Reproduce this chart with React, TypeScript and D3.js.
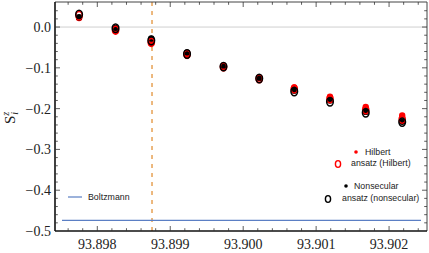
import React, { useRef, useEffect } from 'react';
import * as d3 from 'd3';

// omega values (x) of the ten sample points
const omegas = [93.89775, 93.89825, 93.89874, 93.89923, 93.89973, 93.90022, 93.9007, 93.90119, 93.90168, 93.90218];
const hilbert = [0.022, -0.01, -0.04, -0.068, -0.1, -0.126, -0.148, -0.171, -0.196, -0.217];
const ansatzHilbert = [0.028, -0.008, -0.038, -0.067, -0.098, -0.127, -0.152, -0.176, -0.203, -0.226];
const nonsecular = [0.024, -0.002, -0.028, -0.062, -0.094, -0.124, -0.156, -0.18, -0.208, -0.232];
const ansatzNonsecular = [0.031, -0.003, -0.033, -0.066, -0.097, -0.126, -0.158, -0.183, -0.21, -0.233];
const boltzmann = -0.474;
const resonance = 93.89875;
const xTicks = [93.898, 93.899, 93.9, 93.901, 93.902];
const yTicks = [0, -0.1, -0.2, -0.3, -0.4, -0.5];

const W = 429;
const H = 253;
const M = { left: 55, right: 2, top: 2, bottom: 22 };

const App: React.FC = () => {
  const svgRef = useRef<SVGSVGElement | null>(null);

  useEffect(() => {
    const svg = d3.select(svgRef.current);
    svg.selectAll('*').remove();

    const x = d3.scaleLinear().domain([93.89742, 93.90252]).range([M.left, W - M.right]);
    const y = d3.scaleLinear().domain([-0.5, 0.0614]).range([H - M.bottom, M.top]);
    const [x0, x1] = x.range();
    const [y0, y1] = y.range();

    // zero line
    svg.append('line')
      .attr('x1', x0).attr('x2', x1).attr('y1', y(0)).attr('y2', y(0))
      .attr('stroke', '#cfcfcf').attr('stroke-width', 1);

    // resonance marker
    svg.append('line')
      .attr('x1', x(resonance)).attr('x2', x(resonance)).attr('y1', y1).attr('y2', y0)
      .attr('stroke', '#e0892a').attr('stroke-width', 1.2).attr('stroke-dasharray', '4,5');

    // boltzmann
    svg.append('line')
      .attr('x1', x0 + 7).attr('x2', x1 - 6).attr('y1', y(boltzmann)).attr('y2', y(boltzmann))
      .attr('stroke', '#5b7fc4').attr('stroke-width', 1.2);

    const pts = omegas.map((o, i) => ({ o, i }));

    svg.append('g').selectAll('circle').data(pts).join('circle')
      .attr('cx', d => x(d.o)).attr('cy', d => y(hilbert[d.i])).attr('r', 3.2).attr('fill', '#ff0000');
    svg.append('g').selectAll('circle').data(pts).join('circle')
      .attr('cx', d => x(d.o)).attr('cy', d => y(nonsecular[d.i])).attr('r', 3.2).attr('fill', '#000');
    svg.append('g').selectAll('ellipse').data(pts).join('ellipse')
      .attr('cx', d => x(d.o)).attr('cy', d => y(ansatzHilbert[d.i])).attr('rx', 3.1).attr('ry', 4)
      .attr('fill', 'none').attr('stroke', '#ff0000').attr('stroke-width', 1.5);
    svg.append('g').selectAll('ellipse').data(pts).join('ellipse')
      .attr('cx', d => x(d.o)).attr('cy', d => y(ansatzNonsecular[d.i])).attr('rx', 3.3).attr('ry', 4.2)
      .attr('fill', 'none').attr('stroke', '#000').attr('stroke-width', 1.5);

    // frame
    const frame = svg.append('g');
    frame.append('line').attr('x1', x0).attr('x2', x1).attr('y1', y1).attr('y2', y1).attr('stroke', '#444').attr('stroke-width', 1);
    frame.append('line').attr('x1', x1).attr('x2', x1).attr('y1', y1).attr('y2', y0).attr('stroke', '#444').attr('stroke-width', 1);
    frame.append('line').attr('x1', x0).attr('x2', x1).attr('y1', y0).attr('y2', y0).attr('stroke', '#111').attr('stroke-width', 1.6);
    frame.append('line').attr('x1', x0).attr('x2', x0).attr('y1', y1).attr('y2', y0).attr('stroke', '#111').attr('stroke-width', 1.6);

    // ticks (inward, on all four sides)
    const xMinor = d3.range(93.8976, 93.9025, 0.0002);
    const yMinor = d3.range(-0.48, 0.06, 0.02);
    const tk = svg.append('g').attr('stroke', '#333').attr('stroke-width', 0.8);
    xMinor.forEach(v => {
      const major = xTicks.some(t => Math.abs(t - v) < 1e-7);
      const len = major ? 5 : 2.8;
      tk.append('line').attr('x1', x(v)).attr('x2', x(v)).attr('y1', y0).attr('y2', y0 - len);
      tk.append('line').attr('x1', x(v)).attr('x2', x(v)).attr('y1', y1).attr('y2', y1 + len);
    });
    yMinor.forEach(v => {
      const major = yTicks.some(t => Math.abs(t - v) < 1e-7);
      const len = major ? 5 : 2.8;
      tk.append('line').attr('x1', x0).attr('x2', x0 + len).attr('y1', y(v)).attr('y2', y(v));
      tk.append('line').attr('x1', x1).attr('x2', x1 - len).attr('y1', y(v)).attr('y2', y(v));
    });

    const serif = '"Liberation Serif", "Times New Roman", serif';
    svg.append('g').selectAll('text').data(xTicks).join('text')
      .attr('x', d => x(d)).attr('y', 249).attr('text-anchor', 'middle')
      .attr('font-family', serif).attr('font-size', 14).attr('fill', '#222')
      .text(d => d3.format('.3f')(d));
    svg.append('g').selectAll('text').data(yTicks).join('text')
      .attr('x', 51).attr('y', d => y(d)).attr('dy', '0.35em').attr('text-anchor', 'end')
      .attr('font-family', serif).attr('font-size', 14).attr('fill', '#222')
      .text(d => (d < 0 ? '\u2212' : '') + d3.format('.1f')(Math.abs(d)));

    // axis label S^z_i
    const lab = svg.append('text')
      .attr('transform', 'translate(15,124) rotate(-90)')
      .attr('font-family', serif).attr('font-size', 15).attr('fill', '#222');
    lab.append('tspan').text('S');
    lab.append('tspan').attr('font-size', 10).attr('dy', -6).attr('font-style', 'italic').text('z');
    lab.append('tspan').attr('font-size', 10).attr('dx', -3).attr('dy', 9).attr('font-style', 'italic').text('i');

    // legends
    const sans = '"Liberation Sans", Arial, sans-serif';
    const lg = svg.append('g').attr('font-family', sans).attr('font-size', 8.8).attr('fill', '#222');
    lg.append('line').attr('x1', 68).attr('x2', 82).attr('y1', 197).attr('y2', 197).attr('stroke', '#5b7fc4').attr('stroke-width', 1.2);
    lg.append('text').attr('x', 88).attr('y', 197).attr('dy', '0.35em').text('Boltzmann');

    lg.append('circle').attr('cx', 356).attr('cy', 152).attr('r', 1.8).attr('fill', '#ff0000');
    lg.append('text').attr('x', 365).attr('y', 152).attr('dy', '0.35em').text('Hilbert');
    lg.append('ellipse').attr('cx', 338).attr('cy', 164).attr('rx', 2.6).attr('ry', 3.4)
      .attr('fill', 'none').attr('stroke', '#ff0000').attr('stroke-width', 1.4);
    lg.append('text').attr('x', 351).attr('y', 163).attr('dy', '0.35em').text('ansatz (Hilbert)');
    lg.append('circle').attr('cx', 346).attr('cy', 186).attr('r', 1.8).attr('fill', '#000');
    lg.append('text').attr('x', 354).attr('y', 186).attr('dy', '0.35em').text('Nonsecular');
    lg.append('ellipse').attr('cx', 328).attr('cy', 199).attr('rx', 2.6).attr('ry', 3.4)
      .attr('fill', 'none').attr('stroke', '#000').attr('stroke-width', 1.4);
    lg.append('text').attr('x', 342).attr('y', 198).attr('dy', '0.35em').text('ansatz (nonsecular)');
  }, []);

  return (
    <svg ref={svgRef} width={W} height={H}
      style={{ position: 'absolute', left: 0, top: 0, background: '#fff' }} />
  );
};

export default App;
